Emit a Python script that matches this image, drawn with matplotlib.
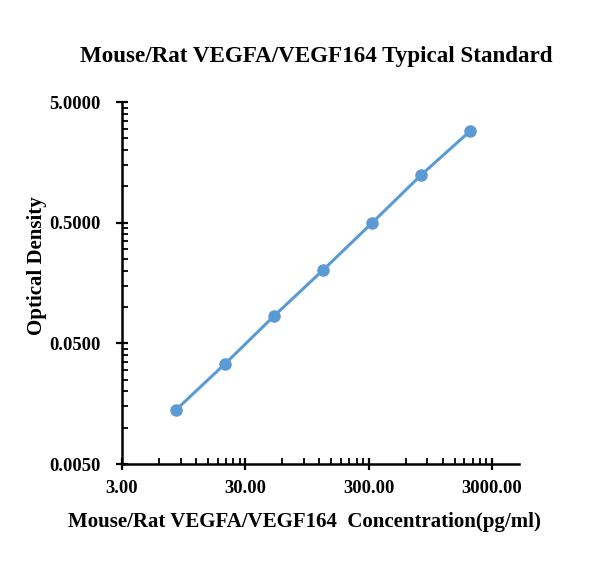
import numpy as np
import matplotlib
matplotlib.use("Agg")
import matplotlib.pyplot as plt
from matplotlib.ticker import FixedLocator, FixedFormatter, NullFormatter

concentration = [8.192, 20.48, 51.2, 128, 320, 800, 2000]
od = [0.0140, 0.0337, 0.084, 0.202, 0.497, 1.24, 2.87]

x_ticks = [3, 30, 300, 3000]
x_tick_labels = ["3.00", "30.00", "300.00", "3000.00"]
y_ticks = [0.005, 0.05, 0.5, 5]
y_tick_labels = ["0.0050", "0.0500", "0.5000", "5.0000"]

title = "Mouse/Rat VEGFA/VEGF164 Typical Standard"
xlabel = "Mouse/Rat VEGFA/VEGF164  Concentration(pg/ml)"
ylabel = "Optical Density"

plt.rcParams['font.family'] = ['Liberation Serif', 'DejaVu Serif']
plt.rcParams['font.weight'] = 'bold'

fig = plt.figure(figsize=(6.10, 5.79), dpi=100)
ax = fig.add_axes([0.2, 0.1986, 0.651, 0.6252])

ax.plot(concentration, od, color='#5B9BD5', lw=2.2, marker='o', ms=8, zorder=3)
ax.set_xscale('log')
ax.set_yscale('log')
ax.set_xlim(3, 5000)
ax.set_ylim(0.005, 5)

ax.xaxis.set_major_locator(FixedLocator(x_ticks))
ax.xaxis.set_major_formatter(FixedFormatter(x_tick_labels))
ax.yaxis.set_major_locator(FixedLocator(y_ticks))
ax.yaxis.set_major_formatter(FixedFormatter(y_tick_labels))
xmin = [b * m for b in x_ticks for m in range(2, 10) if b * m < 5000]
ymin = [b * m for b in y_ticks[:-1] for m in range(2, 10)]
ax.xaxis.set_minor_locator(FixedLocator(xmin))
ax.yaxis.set_minor_locator(FixedLocator(ymin))
ax.xaxis.set_minor_formatter(NullFormatter())
ax.yaxis.set_minor_formatter(NullFormatter())

for s in ['top', 'right']:
    ax.spines[s].set_visible(False)
for s in ['left', 'bottom']:
    ax.spines[s].set_linewidth(1.8)

ax.tick_params(which='major', direction='inout', length=9, width=1.6, labelsize=13.3)
ax.tick_params(axis='x', which='major', pad=7)
ax.tick_params(axis='y', which='major', pad=11)
ax.tick_params(which='minor', direction='in', length=4.5, width=1.3)

for lab in ax.get_xticklabels() + ax.get_yticklabels():
    lab.set_fontweight('bold')

ax.set_title(title, fontsize=16.6, fontweight='bold', x=0.489, pad=29)
ax.set_xlabel(xlabel, fontsize=15, fontweight='bold')
ax.set_ylabel(ylabel, fontsize=15, fontweight='bold')
ax.xaxis.set_label_coords(0.46, -0.133)
ax.yaxis.set_label_coords(-0.188, 0.547)

fig.savefig('out.png', dpi=100)
